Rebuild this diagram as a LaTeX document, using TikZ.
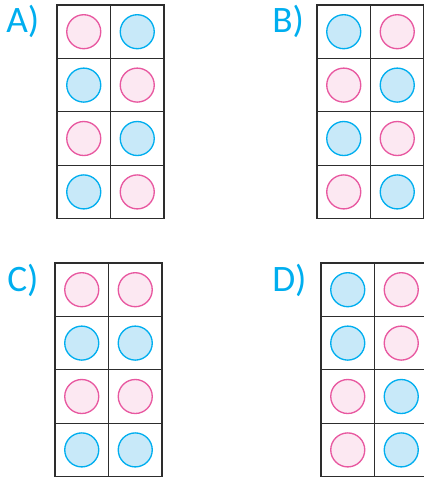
\documentclass[tikz,border=0pt]{standalone}
\usepackage{fontspec}
\setmainfont{Carlito}
\definecolor{cLabel}{RGB}{0,174,239}
\definecolor{cGrid}{RGB}{45,45,45}
\definecolor{cPinkE}{RGB}{232,88,160}
\definecolor{cPinkF}{RGB}{252,232,242}
\definecolor{cBlueE}{RGB}{0,174,239}
\definecolor{cBlueF}{RGB}{200,233,249}

\begin{document}
\begin{tikzpicture}[
  x=0.75pt,y=-0.75pt,
  cellgrid/.style={draw=cGrid, line width=1pt},
  dotP/.style    ={fill=cPinkF, draw=cPinkE, line width=1pt},
  dotB/.style    ={fill=cBlueF, draw=cBlueE, line width=1pt},
  lbl/.style     ={anchor=base west, inner sep=0pt, text=cLabel,
                   font=\fontsize{28}{30}\selectfont},
]
\useasboundingbox (0,0) rectangle (424,480);

% ----- geometry --------------------------------------------------------
\def\cW{53.5}\def\cH{53.4}\def\rD{17}

% ----- labels -----------------------------------------------------------
\node[lbl] (labA) at (6,32)   {A)};
\node[lbl] (labB) at (272,32) {B)};
\node[lbl] (labC) at (7,291)  {C)};
\node[lbl] (labD) at (272,291){D)};

% ----- A ---------------------------------------------------------------
\begin{scope}[shift={(57,5)}]
  \draw[cellgrid] (0,0) rectangle (2*\cW,4*\cH);
  \draw[cellgrid] (\cW,0) -- (\cW,4*\cH);
  \foreach \k in {1,2,3} \draw[cellgrid] (0,\k*\cH) -- (2*\cW,\k*\cH);
  \foreach \c/\r/\s in {0/0/dotP,1/0/dotB,0/1/dotB,1/1/dotP,
                        0/2/dotP,1/2/dotB,0/3/dotB,1/3/dotP}
    \draw[\s] ({(\c+0.5)*\cW},{(\r+0.5)*\cH}) circle (\rD);
\end{scope}

% ----- B ---------------------------------------------------------------
\begin{scope}[shift={(317,5)}]
  \draw[cellgrid] (0,0) rectangle (2*\cW,4*\cH);
  \draw[cellgrid] (\cW,0) -- (\cW,4*\cH);
  \foreach \k in {1,2,3} \draw[cellgrid] (0,\k*\cH) -- (2*\cW,\k*\cH);
  \foreach \c/\r/\s in {0/0/dotB,1/0/dotP,0/1/dotP,1/1/dotB,
                        0/2/dotB,1/2/dotP,0/3/dotP,1/3/dotB}
    \draw[\s] ({(\c+0.5)*\cW},{(\r+0.5)*\cH}) circle (\rD);
\end{scope}

% ----- C ---------------------------------------------------------------
\begin{scope}[shift={(55,263)}]
  \draw[cellgrid] (0,0) rectangle (2*\cW,4*\cH);
  \draw[cellgrid] (\cW,0) -- (\cW,4*\cH);
  \foreach \k in {1,2,3} \draw[cellgrid] (0,\k*\cH) -- (2*\cW,\k*\cH);
  \foreach \c/\r/\s in {0/0/dotP,1/0/dotP,0/1/dotB,1/1/dotB,
                        0/2/dotP,1/2/dotP,0/3/dotB,1/3/dotB}
    \draw[\s] ({(\c+0.5)*\cW},{(\r+0.5)*\cH}) circle (\rD);
\end{scope}

% ----- D ---------------------------------------------------------------
\begin{scope}[shift={(321,263)}]
  \draw[cellgrid] (0,0) rectangle (2*\cW,4*\cH);
  \draw[cellgrid] (\cW,0) -- (\cW,4*\cH);
  \foreach \k in {1,2,3} \draw[cellgrid] (0,\k*\cH) -- (2*\cW,\k*\cH);
  \foreach \c/\r/\s in {0/0/dotB,1/0/dotP,0/1/dotB,1/1/dotP,
                        0/2/dotP,1/2/dotB,0/3/dotP,1/3/dotB}
    \draw[\s] ({(\c+0.5)*\cW},{(\r+0.5)*\cH}) circle (\rD);
\end{scope}

\end{tikzpicture}
\end{document}
